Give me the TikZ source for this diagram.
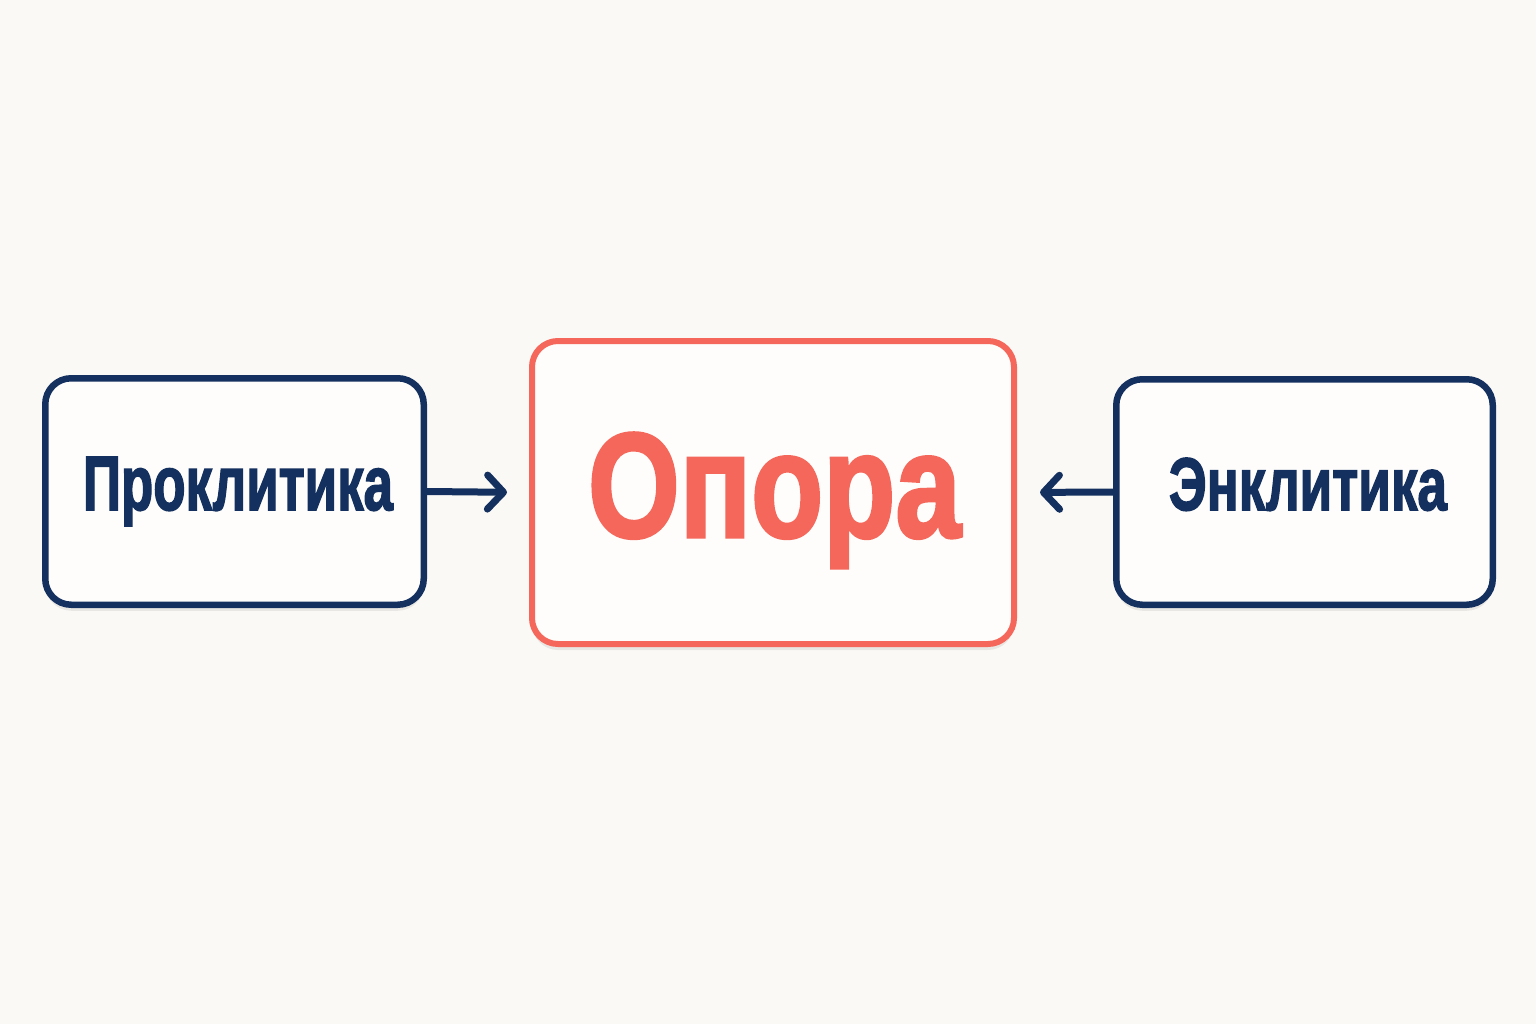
\documentclass[tikz,border=0pt]{standalone}
\usepackage{fontspec}
\setmainfont{Liberation Sans}[BoldFeatures={FakeBold=2.3}]
\usepackage{graphicx}
\usetikzlibrary{arrows.meta,shadows}
\definecolor{navy}{HTML}{13305E}
\definecolor{coral}{HTML}{F4675A}
\definecolor{bgc}{HTML}{FBF9F5}
\definecolor{boxfill}{HTML}{FEFDFB}
\tikzset{
  sidebox/.style={draw=navy, line width=6.5pt, fill=boxfill, rounded corners=26pt,
    drop shadow={shadow xshift=0pt, shadow yshift=-6pt, opacity=0.07, fill=black}},
  mainbox/.style={draw=coral, line width=6pt, fill=boxfill, rounded corners=26pt,
    drop shadow={shadow xshift=0pt, shadow yshift=-6pt, opacity=0.07, fill=black}},
  sidetext/.style={text=navy, anchor=base, inner sep=0pt},
  maintext/.style={text=coral, anchor=base, inner sep=0pt},
  conn/.style={draw=navy, line width=7pt, line cap=round,
    -{Straight Barb[length=16pt, width=34pt, line cap=round, line join=round]}}
}
\begin{document}
\begin{tikzpicture}[x=1pt,y=-1pt]
\fill[bgc] (0,0) rectangle (1536,1024);
\useasboundingbox (0,0) rectangle (1536,1024);
\node[sidebox, minimum width=378.5pt, minimum height=226.5pt] (left) at (234.5,491.5) {};
\node[mainbox, minimum width=482pt, minimum height=303pt] (center) at (773,492.5) {};
\node[sidebox, minimum width=376.5pt, minimum height=225.5pt] (right) at (1304.5,492) {};
\node[sidetext] (lt) at (238,510) {\resizebox{310pt}{53pt}{\bfseries Проклитика}};
\node[sidetext] (rt) at (1308,510) {\resizebox{278pt}{52pt}{\bfseries Энклитика}};
\node[maintext] (ct) at (774.5,537) {\resizebox{373pt}{104pt}{\bfseries Опора}};
\draw[conn, shorten >=22pt] (left.east) -- (center.west);
\draw[conn, shorten >=23pt] (right.west) -- (center.east);
\end{tikzpicture}
\end{document}
